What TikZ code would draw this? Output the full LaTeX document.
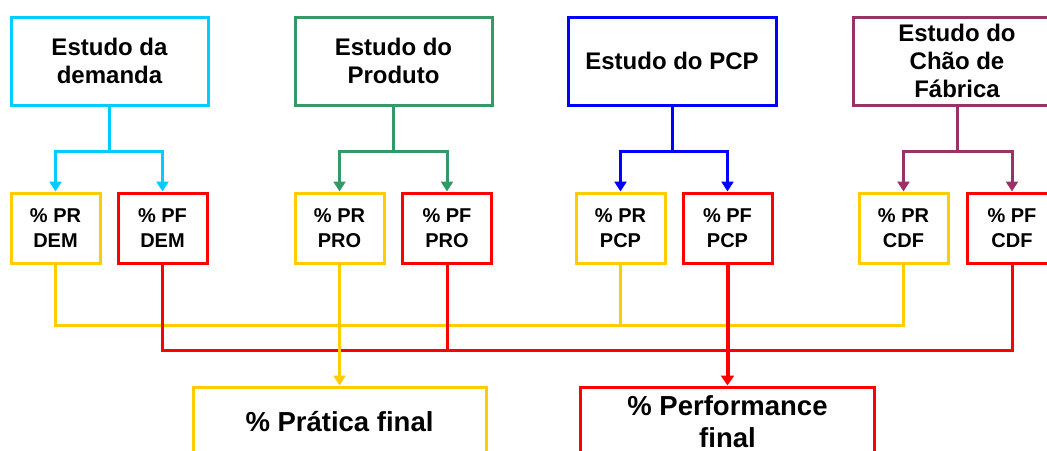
\documentclass[tikz,border=0pt]{standalone}
\usepackage{fontspec}
\setmainfont{Liberation Sans}
\usetikzlibrary{arrows.meta}
\definecolor{cCyan}{HTML}{00CCFF}
\definecolor{cGreen}{HTML}{339966}
\definecolor{cBlue}{HTML}{0000FF}
\definecolor{cPurple}{HTML}{993366}
\definecolor{cYellow}{HTML}{FFCC00}
\definecolor{cRed}{HTML}{FF0000}
\tikzset{
  topbox/.style={draw, line width=3pt, minimum width=197pt, minimum height=88pt, align=center, inner sep=0pt,
    font=\fontsize{24}{28}\selectfont\bfseries},
  smallbox/.style={draw, line width=3pt, minimum width=89pt, minimum height=70pt, align=center, inner sep=0pt,
    font=\fontsize{20}{25}\selectfont\bfseries},
  botbox/.style={draw, line width=3pt, minimum width=293pt, minimum height=70pt, align=center, inner sep=0pt,
    font=\fontsize{27.5}{32}\selectfont\bfseries},
  conn/.style={line width=3pt},
  arr/.style={line width=3pt, -{Triangle[width=12pt,length=10pt]}},
}
\begin{document}
\begin{tikzpicture}[x=1pt,y=-1pt]
\useasboundingbox (0,0) rectangle (1047,450);
% top boxes
\node[topbox, draw=cCyan] (t1) at (109.5,61) {Estudo da\\demanda};
\node[topbox, draw=cGreen] (t2) at (393.5,61) {Estudo do\\Produto};
\node[topbox, draw=cBlue, minimum width=208pt] (t3) at (672,61) {Estudo do PCP};
\node[topbox, draw=cPurple, minimum width=208pt] (t4) at (957,61) {Estudo do\\Chão de\\Fábrica};
% small boxes
\node[smallbox, draw=cYellow] (a1) at (55.5,228) {\% PR\\DEM};
\node[smallbox, draw=cRed] (b1) at (162.5,228) {\% PF\\DEM};
\node[smallbox, draw=cYellow] (a2) at (339.5,228) {\% PR\\PRO};
\node[smallbox, draw=cRed] (b2) at (447,228) {\% PF\\PRO};
\node[smallbox, draw=cYellow] (a3) at (620.5,228) {\% PR\\PCP};
\node[smallbox, draw=cRed] (b3) at (727.5,228) {\% PF\\PCP};
\node[smallbox, draw=cYellow] (a4) at (903.5,228) {\% PR\\CDF};
\node[smallbox, draw=cRed] (b4) at (1012,228) {\% PF\\CDF};
% bottom boxes
\node[botbox, draw=cYellow] (p) at (339.5,422) {\% Prática final};
\node[botbox, draw=cRed, minimum width=294pt] (f) at (727.5,422) {\% Performance\\final};
% top-down arrows
\draw[arr, cCyan] (t1.south) -- ++(0,45) -| (a1.north);
\draw[arr, cCyan] (t1.south) -- ++(0,45) -| (b1.north);
\draw[arr, cGreen] (t2.south) -- ++(0,45) -| (a2.north);
\draw[arr, cGreen] (t2.south) -- ++(0,45) -| (b2.north);
\draw[arr, cBlue] (t3.south) -- ++(0,45) -| (a3.north);
\draw[arr, cBlue] (t3.south) -- ++(0,45) -| (b3.north);
\draw[arr, cPurple] (t4.south) -- ++(0,45) -| (a4.north);
\draw[arr, cPurple] (t4.south) -- ++(0,45) -| (b4.north);
% yellow collector
\draw[conn, cYellow] (a1.south) -- ++(0,61) coordinate (yl) -| (a4.south);
\draw[conn, cYellow] (a3.south) -- (a3.south |- yl);
% red collector
\draw[conn, cRed] (b1.south) -- ++(0,86) coordinate (rl) -| (b4.south);
\draw[conn, cRed] (b2.south) -- (b2.south |- rl);
\draw[line width=4pt, cRed, -{Triangle[width=13pt,length=10pt]}] (b3.south) -- (f.north);
\draw[arr, cYellow] (a2.south) -- (p.north);
\end{tikzpicture}
\end{document}
